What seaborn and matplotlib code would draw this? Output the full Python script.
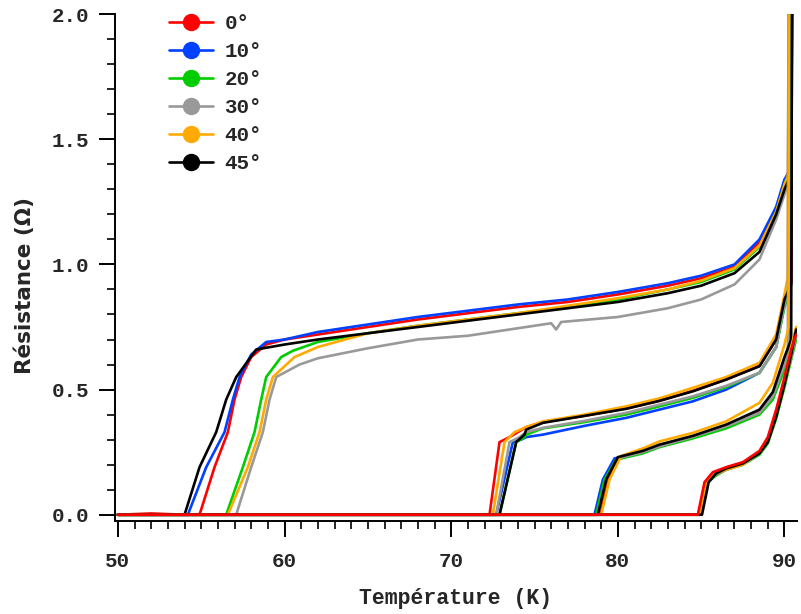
import seaborn as sns
import matplotlib.pyplot as plt
import pandas as pd
from matplotlib.lines import Line2D
from matplotlib.ticker import MultipleLocator, FormatStrFormatter

ANGLES = [0, 10, 20, 30, 40, 45]
COLORS = ["#ff0000", "#0040ff", "#00cc00", "#999999", "#ffaa00", "#000000"]
LABELS = ["0°", "10°", "20°", "30°", "40°", "45°"]

# highest field: transition around 55-59 K
A_T = {
    0: [50, 52, 54, 54.9, 55.8, 56.6, 57.0, 57.4, 58.0, 58.9, 60, 62, 65, 68, 71, 74, 77, 80, 83, 85, 87, 88.5, 89.5, 90.0, 90.4, 90.45],
    10: [50, 52, 54.2, 55.3, 56.4, 56.9, 57.3, 58.0, 58.9, 60, 62, 65, 68, 71, 74, 77, 80, 83, 85, 87, 88.5, 89.5, 90.0, 90.3, 90.35],
    20: [50, 56.5, 57.5, 58.2, 58.6, 58.9, 59.8, 60.5, 62, 65, 68, 71, 74, 77, 80, 83, 85, 87, 88.5, 89.5, 90.0, 90.35, 90.4],
    30: [50, 57.1, 58.0, 58.7, 59.1, 59.5, 60.9, 62, 65, 68, 71, 74, 76.0, 76.3, 76.6, 80, 83, 85, 87, 88.5, 89.5, 90.0, 90.2, 90.25],
    40: [50, 56.6, 57.8, 58.5, 58.9, 59.3, 60.6, 62, 65, 68, 71, 74, 77, 80, 83, 85, 87, 88.5, 89.5, 90.0, 90.25, 90.3],
    45: [50, 54.0, 54.9, 55.9, 56.5, 57.1, 58.3, 60, 62, 65, 68, 71, 74, 77, 80, 83, 85, 87, 88.5, 89.5, 90.0, 90.4, 90.45],
}
A_R = {
    0: [0, 0.005, 0, 0, 0.19, 0.33, 0.46, 0.55, 0.63, 0.68, 0.70, 0.72, 0.75, 0.78, 0.805, 0.83, 0.85, 0.88, 0.915, 0.945, 0.99, 1.09, 1.22, 1.33, 1.40, 2.05],
    10: [0, 0, 0, 0.19, 0.33, 0.46, 0.55, 0.64, 0.69, 0.70, 0.73, 0.76, 0.79, 0.815, 0.84, 0.86, 0.89, 0.925, 0.955, 1.00, 1.10, 1.23, 1.34, 1.37, 2.05],
    20: [0, 0, 0.19, 0.33, 0.46, 0.55, 0.63, 0.655, 0.69, 0.725, 0.755, 0.78, 0.805, 0.83, 0.86, 0.90, 0.93, 0.98, 1.07, 1.21, 1.32, 1.38, 2.05],
    30: [0, 0, 0.19, 0.33, 0.46, 0.55, 0.60, 0.625, 0.665, 0.70, 0.715, 0.745, 0.765, 0.74, 0.77, 0.79, 0.825, 0.86, 0.92, 1.02, 1.18, 1.28, 1.32, 2.05],
    40: [0, 0, 0.19, 0.33, 0.46, 0.55, 0.63, 0.67, 0.725, 0.755, 0.78, 0.805, 0.835, 0.865, 0.90, 0.935, 0.985, 1.075, 1.21, 1.32, 1.36, 2.05],
    45: [0, 0, 0.19, 0.33, 0.46, 0.55, 0.66, 0.68, 0.70, 0.725, 0.75, 0.775, 0.80, 0.825, 0.85, 0.885, 0.915, 0.965, 1.05, 1.20, 1.30, 1.36, 2.05],
}

# transition around 73 K
B_T = {
    0: [50, 72.3, 72.9, 73.5, 74.5, 75.5, 78, 80.5, 82.5, 84.5, 86.5, 88.5, 89.5, 90.0, 90.4, 90.45],
    10: [50, 72.7, 73.7, 74.2, 74.5, 75.5, 78, 80.5, 82.5, 84.5, 86.5, 88.5, 89.5, 90.0, 90.3, 90.35],
    20: [50, 72.9, 73.9, 74.4, 74.5, 75.5, 78, 80.5, 82.5, 84.5, 86.5, 88.5, 89.5, 90.0, 90.35, 90.4],
    30: [50, 72.7, 73.5, 74.1, 74.5, 75.5, 78, 80.5, 82.5, 84.5, 86.5, 88.5, 89.5, 90.0, 90.2, 90.25],
    40: [50, 72.5, 73.2, 73.8, 74.5, 75.5, 78, 80.5, 82.5, 84.5, 86.5, 88.5, 89.5, 90.0, 90.2, 90.25],
    45: [50, 72.9, 73.9, 74.4, 74.5, 75.5, 78, 80.5, 82.5, 84.5, 86.5, 88.5, 89.5, 90.0, 90.4, 90.45],
}
B_R = {
    0: [0, 0, 0.29, 0.31, 0.35, 0.37, 0.395, 0.425, 0.455, 0.495, 0.54, 0.595, 0.70, 0.86, 0.93, 2.05],
    10: [0, 0, 0.29, 0.30, 0.31, 0.32, 0.355, 0.387, 0.42, 0.453, 0.50, 0.567, 0.67, 0.84, 0.92, 2.05],
    20: [0, 0, 0.29, 0.31, 0.32, 0.345, 0.37, 0.40, 0.433, 0.467, 0.51, 0.567, 0.67, 0.83, 0.90, 2.05],
    30: [0, 0, 0.29, 0.31, 0.33, 0.347, 0.375, 0.407, 0.44, 0.473, 0.515, 0.567, 0.67, 0.84, 0.90, 2.05],
    40: [0, 0, 0.29, 0.33, 0.35, 0.373, 0.40, 0.433, 0.465, 0.507, 0.55, 0.607, 0.72, 0.88, 0.95, 2.05],
    45: [0, 0, 0.29, 0.32, 0.34, 0.367, 0.395, 0.423, 0.455, 0.493, 0.54, 0.593, 0.70, 0.86, 0.92, 2.05],
}

# transition around 79 K
C_T = {
    0: [50, 78.9, 79.4, 80.1, 81.5, 82.5, 84.5, 86.5, 88.5, 89.3, 90.0, 90.3, 90.35],
    10: [50, 78.6, 79.1, 79.8, 81.5, 82.5, 84.5, 86.5, 88.5, 89.3, 90.0, 90.3, 90.35],
    20: [50, 78.7, 79.2, 79.9, 81.5, 82.5, 84.5, 86.5, 88.5, 89.3, 90.0, 90.35, 90.4],
    30: [50, 78.8, 79.3, 80.0, 81.5, 82.5, 84.5, 86.5, 88.5, 89.3, 90.0, 90.2, 90.25],
    40: [50, 79.0, 79.5, 80.2, 81.5, 82.5, 84.5, 86.5, 88.5, 89.3, 90.0, 90.25, 90.3],
    45: [50, 78.8, 79.3, 80.0, 81.5, 82.5, 84.5, 86.5, 88.5, 89.3, 90.0, 90.4, 90.45],
}
C_R = {
    0: [0, 0, 0.14, 0.225, 0.25, 0.275, 0.311, 0.355, 0.41, 0.475, 0.60, 0.68, 2.05],
    10: [0, 0, 0.14, 0.225, 0.25, 0.273, 0.311, 0.353, 0.407, 0.473, 0.60, 0.68, 2.05],
    20: [0, 0, 0.14, 0.22, 0.245, 0.27, 0.305, 0.345, 0.40, 0.46, 0.58, 0.66, 2.05],
    30: [0, 0, 0.14, 0.225, 0.25, 0.273, 0.311, 0.353, 0.407, 0.473, 0.60, 0.66, 2.05],
    40: [0, 0, 0.14, 0.235, 0.265, 0.293, 0.327, 0.373, 0.447, 0.527, 0.68, 0.75, 2.05],
    45: [0, 0, 0.14, 0.23, 0.255, 0.28, 0.315, 0.36, 0.42, 0.49, 0.63, 0.70, 2.05],
}

# lowest field: transition around 85 K
D_T = {
    0: [50, 84.8, 85.2, 85.7, 86.5, 87.5, 88.5, 89.0, 89.5, 90.0, 90.4, 90.7],
    10: [50, 84.95, 85.35, 85.8, 86.5, 87.5, 88.5, 89.0, 89.5, 90.0, 90.4, 90.7],
    20: [50, 85.0, 85.4, 85.85, 86.5, 87.5, 88.5, 89.0, 89.5, 90.0, 90.4, 90.7],
    30: [50, 85.0, 85.4, 85.85, 86.5, 87.5, 88.5, 89.0, 89.5, 90.0, 90.4, 90.7],
    40: [50, 84.9, 85.3, 85.75, 86.5, 87.5, 88.5, 89.0, 89.5, 90.0, 90.4, 90.7],
    45: [50, 85.05, 85.45, 85.9, 86.5, 87.5, 88.5, 89.0, 89.5, 90.0, 90.4, 90.7],
}
D_R = {
    0: [0, 0, 0.13, 0.17, 0.19, 0.21, 0.255, 0.31, 0.42, 0.55, 0.66, 0.72],
    10: [0, 0, 0.13, 0.16, 0.18, 0.205, 0.25, 0.295, 0.40, 0.53, 0.64, 0.72],
    20: [0, 0, 0.13, 0.155, 0.18, 0.20, 0.24, 0.285, 0.385, 0.51, 0.62, 0.70],
    30: [0, 0, 0.13, 0.16, 0.18, 0.20, 0.245, 0.29, 0.395, 0.52, 0.63, 0.72],
    40: [0, 0, 0.13, 0.16, 0.18, 0.20, 0.25, 0.30, 0.41, 0.54, 0.67, 0.75],
    45: [0, 0, 0.13, 0.165, 0.185, 0.205, 0.245, 0.29, 0.39, 0.52, 0.64, 0.74],
}


def build_frame(group, temps, res):
    rows = []
    for ang in ANGLES:
        for t, r in zip(temps[ang], res[ang]):
            rows.append({"T": t, "R": r, "angle": ang, "curve": f"{group}{ang}"})
    return pd.DataFrame(rows)


sns.set_style("ticks")
plt.rcParams["font.family"] = ["Liberation Mono", "DejaVu Sans"]

fig = plt.figure(figsize=(8.01, 6.14), dpi=100)
ax = fig.add_axes([0.143, 0.1515, 0.852, 0.8255])

palette = dict(zip(ANGLES, COLORS))
groups = [("A", A_T, A_R), ("B", B_T, B_R), ("C", C_T, C_R), ("D", D_T, D_R)]
for name, temps, res in groups:
    df = build_frame(name, temps, res)
    order = ANGLES if name != "D" else ANGLES[1:] + [0]
    sns.lineplot(data=df, x="T", y="R", hue="angle", hue_order=order, palette=palette,
                 units="curve", estimator=None, sort=False, linewidth=1.9,
                 legend=False, ax=ax)

ax.set_xlim(49.8, 90.75)
ax.set_ylim(-0.025, 2.0)
ax.xaxis.set_major_locator(MultipleLocator(10))
ax.xaxis.set_minor_locator(MultipleLocator(1))
ax.yaxis.set_major_locator(MultipleLocator(0.5))
ax.yaxis.set_minor_locator(MultipleLocator(0.1))
ax.yaxis.set_major_formatter(FormatStrFormatter("%.1f"))
ax.xaxis.set_major_formatter(FormatStrFormatter("%d"))
ax.tick_params(which="major", direction="out", length=11.5, width=1.4, color="black")
ax.tick_params(which="minor", direction="out", length=6, width=1.2, color="black")
ax.tick_params(axis="y", which="major", pad=7)
ax.tick_params(axis="x", which="major", pad=11)
for lbl in ax.get_xticklabels() + ax.get_yticklabels():
    lbl.set_fontsize(15)
    lbl.set_fontweight("bold")
    lbl.set_family("Liberation Mono")

for side in ["top", "right"]:
    ax.spines[side].set_visible(False)
for side in ["left", "bottom"]:
    ax.spines[side].set_linewidth(1.4)
    ax.spines[side].set_color("black")

ax.set_xlabel("Température (K)", fontsize=15.5, fontweight="bold", family="Liberation Mono")
ax.set_ylabel("Résistance (Ω)", fontsize=15.5, fontweight="bold", family="DejaVu Sans")
ax.xaxis.set_label_coords(0.5, -0.132)
ax.yaxis.set_label_coords(-0.116, 0.465)

handles = [Line2D([], [], color=c, lw=1.9, marker="o", markersize=11.5) for c in COLORS]
ax.legend(handles, LABELS, loc="upper left", bbox_to_anchor=(0.08, 1.0), frameon=False,
          prop={"family": "Liberation Mono", "weight": "bold", "size": 15},
          handlelength=2.1, handletextpad=0.55, labelspacing=0.43,
          borderaxespad=0, borderpad=0)

fig.savefig("out.png", dpi=100)
